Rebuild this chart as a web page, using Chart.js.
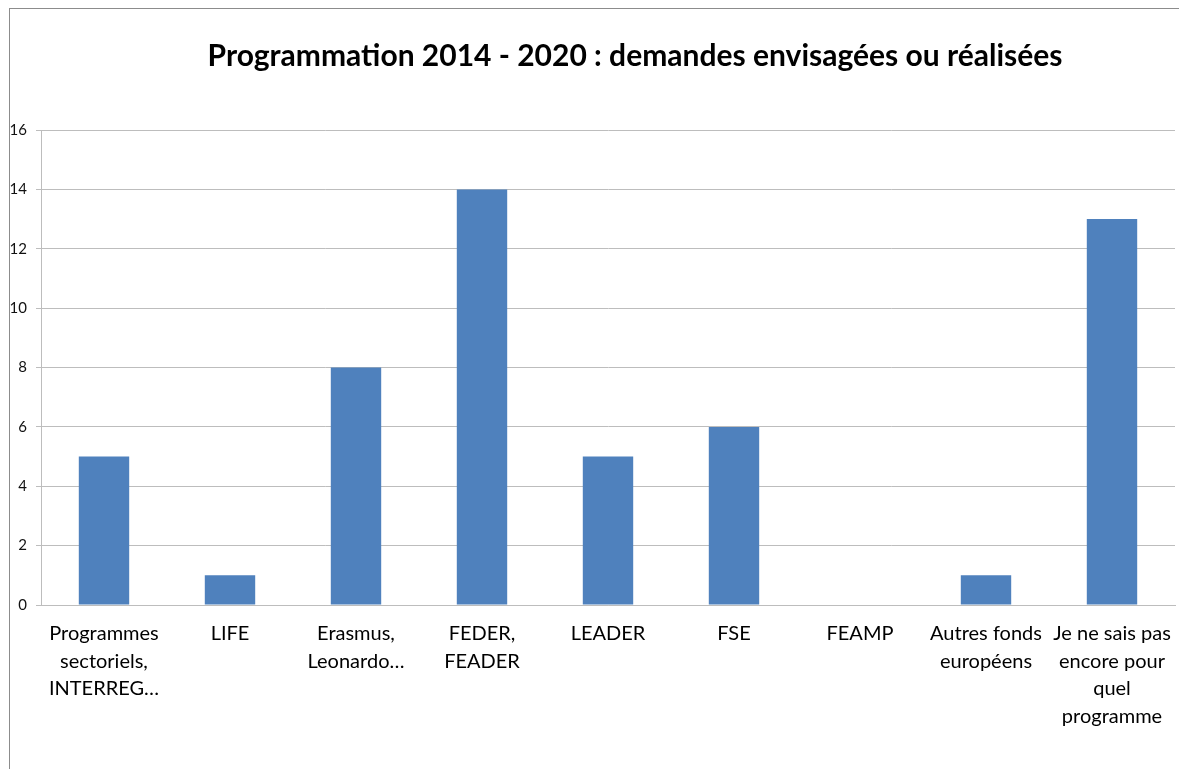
<!DOCTYPE html>
<html>
<head>
<meta charset="utf-8">
<script src="https://cdn.jsdelivr.net/npm/chart.js@4/dist/chart.umd.min.js"></script>
<style>
  html, body { margin: 0; padding: 0; background: #fff; overflow: hidden; }
  #wrap { position: relative; width: 1179px; height: 769px; }
</style>
</head>
<body>
<div id="wrap"><canvas id="chart" width="1179" height="769"></canvas></div>
<script>
    "use strict";

    var titleText = "Programmation 2014 - 2020 : demandes envisagées ou réalisées";
    var categories = [
        ["Programmes", "sectoriels,", "INTERREG…"],
        ["LIFE"],
        ["Erasmus,", "Leonardo…"],
        ["FEDER,", "FEADER"],
        ["LEADER"],
        ["FSE"],
        ["FEAMP"],
        ["Autres fonds", "européens"],
        ["Je ne sais pas", "encore pour", "quel", "programme"]
    ];
    var values = [5, 1, 8, 14, 5, 6, 0, 1, 13];
    var yMin = 0, yMax = 16, yStep = 2;

    var fontFamily = "Lato, 'Open Sans', sans-serif";

    // outer frame of the chart object (only left and top edges are visible)
    var framePlugin = {
        id: "frame",
        beforeDraw: function (chart) {
            var ctx = chart.ctx;
            ctx.save();
            ctx.fillStyle = "#fff";
            ctx.fillRect(0, 0, chart.width, chart.height);
            ctx.strokeStyle = "#8c8c8c";
            ctx.lineWidth = 1;
            ctx.strokeRect(9.5, 8.5, chart.width + 20, chart.height + 20);
            ctx.restore();
        },
        // title is centred on the whole chart object, not the canvas box
        afterDraw: function (chart) {
            var ctx = chart.ctx;
            ctx.save();
            ctx.fillStyle = "#000";
            ctx.font = "bold 30px " + fontFamily;
            ctx.textAlign = "center";
            ctx.textBaseline = "middle";
            ctx.fillText(titleText, 635, 56);
            ctx.restore();
        }
    };

    var ctx = document.getElementById("chart").getContext("2d");
    var chart = new Chart(ctx, {
        type: "bar",
        data: {
            labels: categories,
            datasets: [{
                data: values,
                backgroundColor: "#4F81BD",
                borderWidth: 0,
                barPercentage: 0.4,
                categoryPercentage: 1.0
            }]
        },
        options: {
            responsive: false,
            animation: false,
            layout: { padding: { left: 0, right: 4, top: 130, bottom: 0 } },
            plugins: {
                legend: { display: false },
                tooltip: { enabled: false },
                title: { display: false }
            },
            scales: {
                x: {
                    grid: { display: false, drawTicks: false },
                    border: { display: true, color: "#bdbdbd" },
                    ticks: {
                        color: "#000",
                        font: { family: fontFamily, size: 20, lineHeight: 1.38 },
                        padding: 15,
                        maxRotation: 0,
                        autoSkip: false
                    },
                    afterFit: function (scale) {
                        scale.height = 769 - 605;
                        scale.paddingLeft = 0;
                        scale.paddingRight = 0;
                    }
                },
                y: {
                    min: yMin,
                    max: yMax,
                    grid: { color: "#bdbdbd", tickLength: 5 },
                    border: { display: true, color: "#bdbdbd" },
                    ticks: {
                        stepSize: yStep,
                        color: "#111",
                        font: { family: fontFamily, size: 15 },
                        padding: 9
                    },
                    afterFit: function (scale) { scale.width = 41; }
                }
            }
        },
        plugins: [framePlugin]
    });
</script>
</body>
</html>
